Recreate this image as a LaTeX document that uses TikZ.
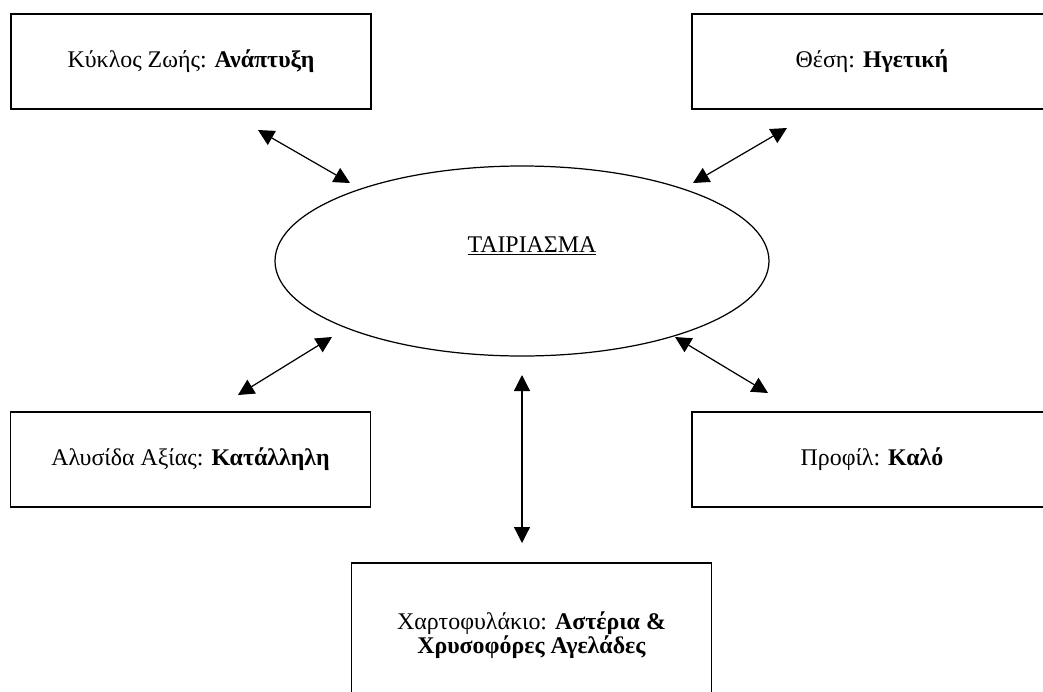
\documentclass[tikz,border=0pt]{standalone}
\usepackage{fontspec}
\setmainfont{Liberation Serif}
\usetikzlibrary{shapes,arrows.meta,positioning}
\tikzset{fact box/.style={rectangle, draw, line width=0.7pt,
    minimum width=7.2cm, minimum height=1.9cm, inner sep=0pt,
    font=\fontsize{13.6}{13.8}\selectfont, align=center}}
\tikzset{match node/.style={ellipse, draw, line width=0.7pt,
    minimum width=9.88cm, minimum height=3.8cm, inner sep=0pt}}
\tikzset{link edge/.style={line width=0.7pt,
    {Triangle[length=0.32cm,width=0.32cm]}-{Triangle[length=0.32cm,width=0.32cm]}}}

\begin{document}
\begin{tikzpicture}
  \useasboundingbox (0,0) rectangle (20.86,-13.82);
  \begin{scope}
    \node [match node, label={[xshift=0.2cm, yshift=0.3cm,
           font=\fontsize{13.6}{15}\selectfont]center:\underline{ΤΑΙΡΙΑΣΜΑ}}]
                      (match)     at (10.44, -5.22) {};
    \node [fact box]  (lifecycle) at ( 3.82, -1.23) {Κύκλος Ζωής: \textbf{Ανάπτυξη}};
    \node [fact box]  (position)  at (17.44, -1.23) {Θέση: \textbf{Ηγετική}};
    \node [fact box]  (chain)     at ( 3.81, -9.19) {Αλυσίδα Αξίας: \textbf{Κατάλληλη}};
    \node [fact box]  (profile)   at (17.44, -9.19) {Προφίλ: \textbf{Καλό}};
    \node [fact box, minimum height=2.88cm]
                      (portfolio) at (10.63,-12.70) {Χαρτοφυλάκιο: \textbf{Αστέρια \&}\\\textbf{Χρυσοφόρες Αγελάδες}};

    \coordinate (lifecycle end) at ( 5.16, -2.60);
    \coordinate (lifecycle tip) at ( 7.00, -3.66);
    \coordinate (position tip)  at (13.86, -3.66);
    \coordinate (position end)  at (15.74, -2.56);
    \coordinate (chain end)     at ( 4.76, -7.90);
    \coordinate (chain tip)     at ( 6.64, -6.74);
    \coordinate (profile tip)   at (13.50, -6.74);
    \coordinate (profile end)   at (15.36, -7.86);
    \coordinate (folio tip)     at (10.44, -7.50);
    \coordinate (folio end)     at (10.44,-10.86);

    \draw [link edge] (lifecycle end) to (lifecycle tip);
    \draw [link edge] (position tip)  to (position end);
    \draw [link edge] (chain end)     to (chain tip);
    \draw [link edge] (profile tip)   to (profile end);
    \draw [link edge] (folio tip)     to (folio end);
  \end{scope}
\end{tikzpicture}
\end{document}
